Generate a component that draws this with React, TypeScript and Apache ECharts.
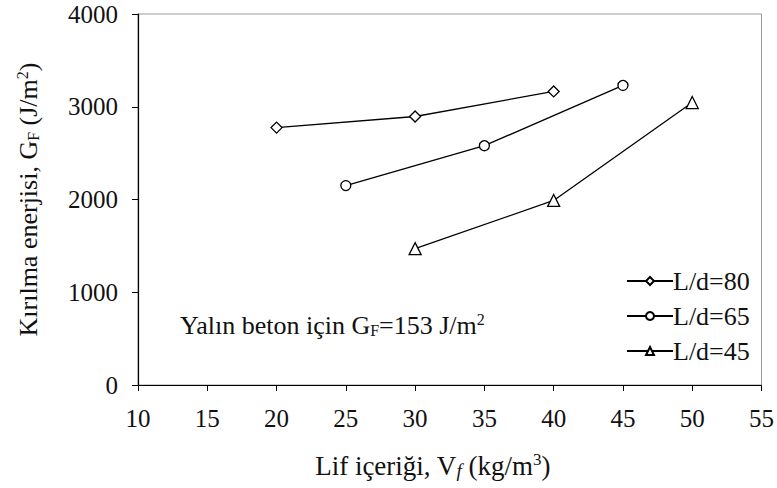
import React, { useEffect, useRef } from "react";
import * as echarts from "echarts";

const seriesNames = ["L/d=80", "L/d=65", "L/d=45"];
const fiberContent80 = [20, 30, 40];
const energy80 = [2775, 2895, 3165];
const fiberContent65 = [25, 35, 45];
const energy65 = [2150, 2580, 3230];
const fiberContent45 = [30, 40, 50];
const energy45 = [1470, 1990, 3045];
const symbols = ["diamond", "circle", "triangle"];
const symbolSizes = [11, 10, 12];

const FONT = "Liberation Serif";
const FS = 26;
const TICK_FS = 25;
const INK = "#111";

export default function App() {
  const ref = useRef<HTMLDivElement>(null);
  useEffect(() => {
    if (!ref.current) return;
    const chart = echarts.init(ref.current, undefined, { renderer: "svg" });
    const xs = [fiberContent80, fiberContent65, fiberContent45];
    const ys = [energy80, energy65, energy45];
    const series = seriesNames.map((name, i) => ({
      name,
      type: "line",
      data: xs[i].map((x, j) => [x, ys[i][j]]),
      symbol: symbols[i],
      symbolSize: symbolSizes[i],
      showAllSymbol: true,
      lineStyle: { color: "#000", width: 1.3 },
      itemStyle: { color: "#fff", borderColor: "#000", borderWidth: 1.3 },
      emphasis: { disabled: true },
    }));
    const rich = {
      n: { fontFamily: FONT, fontSize: FS, color: INK },
      sub: { fontFamily: FONT, fontSize: 16, color: INK, padding: [10, 0, 0, 0] },
      subi: { fontFamily: FONT, fontSize: 18, fontStyle: "italic", color: INK, padding: [9, 0, 0, 0] },
      sup: { fontFamily: FONT, fontSize: 16, color: INK, padding: [0, 0, 13, 0] },
    };
    const richX = {
      n: { fontFamily: FONT, fontSize: 27, color: INK },
      subi: { fontFamily: FONT, fontSize: 19, fontStyle: "italic", color: INK, padding: [9, 0, 0, 0] },
      sup: { fontFamily: FONT, fontSize: 17, color: INK, padding: [0, 0, 13, 0] },
    };
    const richFill = {
      n: { fontFamily: FONT, fontSize: FS, fill: INK },
      sub: { fontFamily: FONT, fontSize: 16, fill: INK, padding: [10, 0, 0, 0] },
      sup: { fontFamily: FONT, fontSize: 16, fill: INK, padding: [0, 0, 13, 0] },
    };
    chart.setOption({
      animation: false,
      backgroundColor: "#fff",
      textStyle: { fontFamily: FONT },
      grid: {
        left: 138,
        right: 6,
        top: 14,
        bottom: 103,
        show: true,
        borderColor: "#9a9a9a",
        borderWidth: 1,
      },
      legend: {
        orient: "vertical",
        left: 621,
        top: 263,
        itemWidth: 46,
        itemHeight: 10,
        itemGap: 9,
        data: seriesNames,
        textStyle: { fontFamily: FONT, fontSize: FS, color: INK, padding: [0, 0, 0, -5] },
      },
      xAxis: {
        type: "value",
        min: 10,
        max: 55,
        interval: 5,
        axisLine: { show: true, lineStyle: { color: "#000", width: 1.2 } },
        axisTick: { show: true, inside: false, length: 6, lineStyle: { color: "#000" } },
        splitLine: { show: false },
        axisLabel: { fontFamily: FONT, fontSize: TICK_FS, color: INK, margin: 21, formatter: (v: number) => String(v) },
        name: "{n|Lif içeriği, V}{subi|f}{n| (kg/m}{sup|3}{n|)}",
        nameLocation: "middle",
        nameGap: 66,
        nameTextStyle: { fontFamily: FONT, fontSize: 27, color: INK, padding: [0, 34, 0, 0], rich: richX },
      },
      yAxis: {
        type: "value",
        min: 0,
        max: 4000,
        interval: 1000,
        axisLine: { show: true, lineStyle: { color: "#000", width: 1.2 } },
        axisTick: { show: true, inside: false, length: 6, lineStyle: { color: "#000" } },
        splitLine: { show: false },
        axisLabel: { fontFamily: FONT, fontSize: TICK_FS, color: INK, margin: 20, formatter: (v: number) => String(v) },
        name: "{n|Kırılma enerjisi, G}{sub|F}{n| (J/m}{sup|2}{n|)}",
        nameLocation: "middle",
        nameGap: 95,
        nameTextStyle: { fontFamily: FONT, fontSize: FS, color: INK, rich },
      },
      graphic: [
        {
          type: "text",
          left: 180,
          top: 311,
          style: {
            text: "{n|Yalın beton için G}{sub|F}{n|=153 J/m}{sup|2}",
            rich: richFill,
          },
        },
      ],
      series,
    });
    return () => chart.dispose();
  }, []);
  return <div ref={ref} style={{ width: 777, height: 488, position: "absolute", left: 0, top: 0 }} />;
}
